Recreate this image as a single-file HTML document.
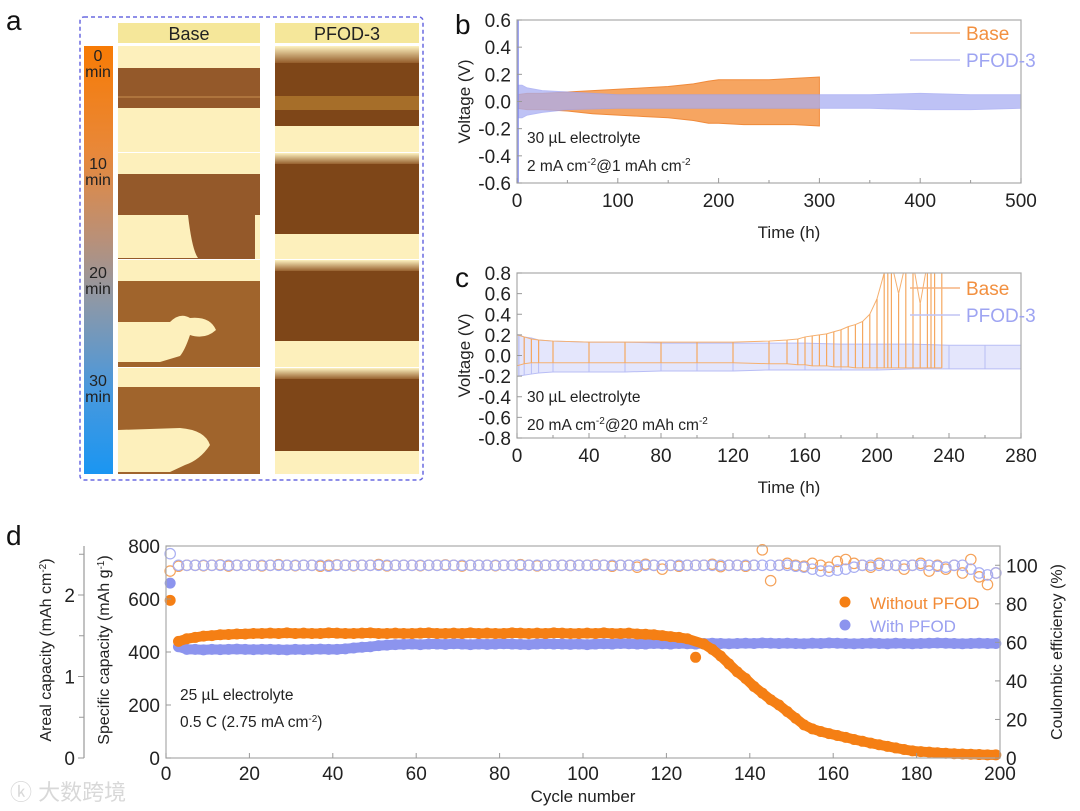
<!DOCTYPE html>
<html><head><meta charset="utf-8"><style>
html,body{margin:0;padding:0;background:#fff}
svg{display:block;font-family:"Liberation Sans","Noto Sans CJK SC",sans-serif}
</style></head><body>
<svg id="fig" width="1080" height="811" viewBox="0 0 1080 811" xmlns="http://www.w3.org/2000/svg">
<defs>
<linearGradient id="cbar" x1="0" y1="0" x2="0" y2="1">
<stop offset="0" stop-color="#f77b05"/><stop offset="0.25" stop-color="#e8883a"/><stop offset="0.45" stop-color="#b99078"/><stop offset="0.6" stop-color="#8c98a8"/><stop offset="0.8" stop-color="#4a98dc"/><stop offset="1" stop-color="#1a96f2"/>
</linearGradient>
<linearGradient id="pfTop" x1="0" y1="0" x2="0" y2="1"><stop offset="0" stop-color="#fdf2c0"/><stop offset="1" stop-color="#8e5422"/></linearGradient>
</defs>
<g>
<text x="6" y="30" font-size="28" fill="#111">a</text>
<rect x="80" y="17" width="343" height="463" fill="none" stroke="#6a6ae0" stroke-width="1.5" stroke-dasharray="4,3" rx="4"/>
<rect x="118" y="23" width="142" height="20" fill="#f5e79a"/>
<text x="189" y="40" font-size="18" text-anchor="middle" fill="#222">Base</text>
<rect x="275" y="23" width="144" height="20" fill="#f5e79a"/>
<text x="347" y="40" font-size="18" text-anchor="middle" fill="#222">PFOD-3</text>
<rect x="84" y="46" width="29" height="428" fill="url(#cbar)"/>
<g font-size="16" fill="#222" text-anchor="middle">
<text x="98" y="61">0</text><text x="98" y="77">min</text>
<text x="98" y="169">10</text><text x="98" y="185">min</text>
<text x="98" y="278">20</text><text x="98" y="294">min</text>
<text x="98" y="386">30</text><text x="98" y="402">min</text>
</g>
<g>
<rect x="118" y="46" width="142" height="106" fill="#fdf0bc"/><rect x="118" y="68" width="142" height="40" fill="#94592a"/><line x1="118" y1="97" x2="260" y2="97" stroke="#c89050" stroke-width="1"/>
<rect x="118" y="153" width="142" height="106" fill="#fdf0bc"/><rect x="118" y="174" width="142" height="85" fill="#94592a"/><path d="M118,215 L188,215 Q192,250 198,258 L118,258 Z" fill="#fdf0bc"/><rect x="255" y="215" width="5" height="44" fill="#fdf0bc"/>
<rect x="118" y="260" width="142" height="107" fill="#fdf0bc"/><rect x="118" y="281" width="142" height="86" fill="#a0642c"/><path d="M118,322 L170,322 Q180,312 190,318 Q210,316 216,330 Q205,340 190,335 Q185,350 180,356 L160,362 L118,362 Z" fill="#fdf0bc"/>
<rect x="118" y="368" width="142" height="106" fill="#fdf0bc"/><rect x="118" y="387" width="142" height="87" fill="#a0642c"/><path d="M118,430 L180,428 Q205,430 210,445 Q200,460 185,465 L170,472 L118,472 Z" fill="#fdf0bc"/>
</g>
<g>
<rect x="275" y="46" width="144" height="106" fill="#fdf0bc"/><rect x="275" y="46" width="144" height="18" fill="url(#pfTop)"/><rect x="275" y="63" width="144" height="63" fill="#7e4618"/><rect x="275" y="96" width="144" height="14" fill="#b0782e" opacity="0.8"/>
<rect x="275" y="153" width="144" height="106" fill="#fdf0bc"/><rect x="275" y="153" width="144" height="12" fill="url(#pfTop)"/><rect x="275" y="164" width="144" height="70" fill="#7e4618"/>
<rect x="275" y="260" width="144" height="107" fill="#fdf0bc"/><rect x="275" y="260" width="144" height="12" fill="url(#pfTop)"/><rect x="275" y="271" width="144" height="70" fill="#7e4618"/>
<rect x="275" y="368" width="144" height="106" fill="#fdf0bc"/><rect x="275" y="368" width="144" height="12" fill="url(#pfTop)"/><rect x="275" y="379" width="144" height="72" fill="#7e4618"/>
</g>
</g>
<g id="pb"></g>
<g id="pc"></g>
<g id="pd"></g>
<text x="10" y="800" font-size="22" fill="#d8d8d8">ⓚ 大数跨境</text>
</svg>
<script>
// Panel b data (envelope of voltage, V)
const bBaseT=[0,10,25,50,75,100,125,150,175,190,200,225,250,275,300];
const bBaseHi=[0.05,0.06,0.06,0.07,0.08,0.09,0.1,0.11,0.13,0.15,0.16,0.16,0.16,0.17,0.18];
const bBaseLo=[-0.05,-0.06,-0.06,-0.07,-0.09,-0.1,-0.11,-0.12,-0.14,-0.16,-0.16,-0.17,-0.17,-0.17,-0.18];
const bPfT=[0,5,10,25,50,100,150,200,250,300,350,400,450,500];
const bPfHi=[0.12,0.12,0.1,0.08,0.07,0.05,0.05,0.05,0.05,0.05,0.05,0.06,0.05,0.05];
const bPfLo=[-0.12,-0.12,-0.1,-0.08,-0.06,-0.05,-0.05,-0.05,-0.05,-0.05,-0.05,-0.06,-0.06,-0.05];
const bXTicks=[0,100,200,300,400,500];
const bYTicks=[0.6,0.4,0.2,0.0,-0.2,-0.4,-0.6];
// Panel c data
const cBaseT=[0,4,8,12,20,40,60,80,100,120,140,150,156,160,164,168,172,176,180,184,188,192,196,200,204,206,208,212,216,220,224,228,230,232,236];
const cBaseHi=[0.2,0.18,0.16,0.15,0.14,0.13,0.13,0.13,0.13,0.13,0.14,0.15,0.16,0.18,0.19,0.2,0.21,0.23,0.25,0.28,0.3,0.33,0.4,0.55,0.8,0.9,0.9,0.6,0.9,0.9,0.5,0.9,0.9,0.9,0.9];
const cBaseLo=[-0.1,-0.08,-0.07,-0.07,-0.07,-0.07,-0.07,-0.07,-0.07,-0.07,-0.08,-0.08,-0.09,-0.09,-0.1,-0.1,-0.1,-0.11,-0.11,-0.11,-0.12,-0.12,-0.12,-0.12,-0.12,-0.12,-0.12,-0.12,-0.12,-0.12,-0.12,-0.12,-0.12,-0.12,-0.12];
const cPfT=[0,1,4,8,12,20,40,60,80,100,120,140,160,180,200,220,240,260,280];
const cPfHi=[0.7,0.2,0.18,0.17,0.15,0.14,0.13,0.13,0.12,0.12,0.12,0.12,0.12,0.11,0.11,0.11,0.1,0.1,0.1];
const cPfLo=[-0.8,-0.2,-0.19,-0.18,-0.17,-0.16,-0.16,-0.16,-0.15,-0.15,-0.15,-0.14,-0.14,-0.14,-0.14,-0.13,-0.13,-0.13,-0.13];
const cXTicks=[0,40,80,120,160,200,240,280];
const cYTicks=[0.8,0.6,0.4,0.2,0.0,-0.2,-0.4,-0.6,-0.8];
// Panel d data (every 2 cycles, 1..199)
const dCycles=[1,3,5,7,9,11,13,15,17,19,21,23,25,27,29,31,33,35,37,39,41,43,45,47,49,51,53,55,57,59,61,63,65,67,69,71,73,75,77,79,81,83,85,87,89,91,93,95,97,99,101,103,105,107,109,111,113,115,117,119,121,123,125,127,129,131,133,135,137,139,141,143,145,147,149,151,153,155,157,159,161,163,165,167,169,171,173,175,177,179,181,183,185,187,189,191,193,195,197,199];
const dCapBase=[
595,440,450,455,460,462,465,466,468,468,
470,470,471,470,472,470,471,470,470,472,
471,470,470,471,472,470,470,471,470,470,
471,472,470,470,471,470,472,470,471,470,
470,472,471,470,471,470,472,471,470,470,
471,470,472,470,470,471,468,467,465,462,
458,455,450,380,430,410,385,355,325,300,
270,245,220,200,175,150,125,110,100,92,
85,78,70,63,56,50,44,38,32,27,
24,22,20,18,16,15,14,13,12,12];
const dCapPfod=[
660,420,410,410,408,410,409,410,411,410,
409,410,410,409,408,410,409,410,411,410,
410,412,415,418,420,424,426,428,429,430,
428,430,430,429,431,430,428,430,429,430,
431,430,429,428,430,431,430,430,429,430,
428,430,431,430,432,431,430,430,432,431,
430,432,431,430,432,433,432,431,432,433,
432,434,433,432,433,432,431,433,432,434,
433,432,431,432,433,432,431,433,432,431,
432,433,434,433,432,431,432,433,432,432];
const dCeBase=[
97,99.5,100,100,99.8,100,100.2,99.6,100,100,
100,99.7,100,100.3,100,99.8,100,100,99.5,100,
100.2,100,99.8,100,100,100.4,99.7,100,100,100,
99.8,100,100,100.2,100,99.6,100,100,100,99.8,
100,100,100.3,100,99.7,100,100,100,99.9,100,
100,100.2,100,99.5,100,100,99,100.5,100,98,
100,99.5,100,100,100,100.5,99.3,100,100,99.5,
100,108,92,100,101,100,99.5,101,100,99,
102,103,101,100,99,101,100,100,98,100,
101,97,100,98,100,96,103,94,90,96];
const dCePfod=[
106,100,100,100,100,100,100,100,100,100,
100,100,100,100,100,100,100,100,100,99.5,
100,100,100,100,100,100,100,100,100,100,
100,100,100,100,100,100,100,100,100,100,
100,100,100,100,100,100,100,100,100,100,
100,100,100,100,100,100,100,100,100,100,
100,100,100,100,100,100,100,100,100,100,
100,100,100,100,100,99.5,99,98,97,97,
97.5,98,99,100,100,100,100,100,100,100,
100,100,99.5,99,100,100,98,96,95,96];
const dXTicks=[0,20,40,60,80,100,120,140,160,180,200];
const dYTicks=[0,200,400,600,800];
const dY2Ticks=[0,20,40,60,80,100];
const dAreal=[0,1,2];

const NS="http://www.w3.org/2000/svg";
function mk(parent,tag,attrs,name,text){const e=document.createElementNS(NS,tag);for(const k in attrs)e.setAttribute(k,attrs[k]);


if(text!==undefined)e.textContent=text;parent.appendChild(e);return e;}

function voltPanel(g,cfg){
  const {x0,x1,y0,y1,xmax,ymax}=cfg;
  const X=t=>x0+(t/xmax)*(x1-x0);
  const Y=v=>(y0+y1)/2-(v/ymax)*(y1-y0)/2;
  const cp=mk(g,'clipPath',{id:cfg.id+'clip'},'clip');mk(cp,'rect',{x:x0,y:y0,width:x1-x0,height:y1-y0},'clip-rect');
  const data=mk(g,'g',{'clip-path':'url(#'+cfg.id+'clip)'},'series');
  cfg.draw(data,X,Y);
  mk(g,'rect',{x:x0,y:y0,width:x1-x0,height:y1-y0,fill:'none',stroke:'#aaa','stroke-width':1.2},'plot-frame');
  cfg.xt.forEach((t,i)=>{mk(g,'line',{x1:X(t),x2:X(t),y1:y1,y2:y1-5,stroke:'#999'},'x-tick');
    mk(g,'text',{x:X(t),y:y1+24,'font-size':19,'text-anchor':'middle',fill:'#222'},'x-tick-label',t);
    if(i<cfg.xt.length-1){const m=(t+cfg.xt[i+1])/2;mk(g,'line',{x1:X(m),x2:X(m),y1:y1,y2:y1-3,stroke:'#999'},'x-minor-tick');}});
  cfg.yt.forEach(v=>{mk(g,'line',{x1:x0,x2:x0+5,y1:Y(v),y2:Y(v),stroke:'#999'},'y-tick');
    mk(g,'text',{x:x0-6,y:Y(v)+7,'font-size':19,'text-anchor':'end',fill:'#222'},'y-tick-label',v.toFixed(1));});
  mk(g,'text',{x:(x0+x1)/2+20,y:y1+55,'font-size':17,'text-anchor':'middle',fill:'#222'},'x-axis-title','Time (h)');
  mk(g,'text',{transform:`translate(470,${(y0+y1)/2}) rotate(-90)`,'font-size':17,'text-anchor':'middle',fill:'#222'},'y-axis-title','Voltage (V)');
  mk(g,'text',{x:455,y:y0+14,'font-size':28,fill:'#111'},'panel-label',cfg.letter);
  const l1=mk(g,'g',{},'legend-base');
  mk(l1,'line',{x1:910,x2:960,y1:cfg.ly,y2:cfg.ly,stroke:'#f5b380','stroke-width':1.5},'legend-base-line');
  mk(l1,'text',{x:966,y:cfg.ly+7,'font-size':19,fill:'#f29040'},'legend-base-text','Base');
  const l2=mk(g,'g',{},'legend-pfod');
  mk(l2,'line',{x1:910,x2:960,y1:cfg.ly+27,y2:cfg.ly+27,stroke:'#c0c4f4','stroke-width':1.5},'legend-pfod-line');
  mk(l2,'text',{x:966,y:cfg.ly+34,'font-size':19,fill:'#9ea4f2'},'legend-pfod-text','PFOD-3');
  const a=mk(g,'text',{x:x0+10,y:cfg.ay,'font-size':15.5,fill:'#222'},'annotation-volume');a.textContent='30 µL electrolyte';
  const b=mk(g,'text',{x:x0+10,y:cfg.ay+28,'font-size':15.5,fill:'#222'},'annotation-current');
  b.innerHTML=cfg.cond;
}
function env(T,H,L,X,Y){let p=T.map((t,i)=>X(t)+','+Y(H[i]));for(let i=T.length-1;i>=0;i--)p.push(X(T[i])+','+Y(L[i]));return p.join(' ');}

voltPanel(document.getElementById('pb'),{id:'b',letter:'b',x0:517,x1:1021,y0:20,y1:183,xmax:500,ymax:0.6,xt:bXTicks,yt:bYTicks,ly:33,ay:143,
 cond:'2 mA cm<tspan dy="-6" font-size="10">-2</tspan><tspan dy="6">@1 mAh cm</tspan><tspan dy="-6" font-size="10">-2</tspan>',
 draw:(g,X,Y)=>{
  mk(g,'polygon',{points:env(bBaseT,bBaseHi,bBaseLo,X,Y),fill:'#f6a561','stroke':'#f08a3a','stroke-width':1},'base-envelope');
  mk(g,'polygon',{points:env(bPfT,bPfHi,bPfLo,X,Y),fill:'#a9aef2',opacity:0.75,'stroke':'#9ea4f2','stroke-width':1},'pfod-envelope');
  mk(g,'line',{x1:X(1),x2:X(1),y1:Y(0.6),y2:Y(-0.6),stroke:'#8088ee','stroke-width':1.5},'pfod-initial-spike');
 }});
voltPanel(document.getElementById('pc'),{id:'c',letter:'c',x0:517,x1:1021,y0:273,y1:438,xmax:280,ymax:0.8,xt:cXTicks,yt:cYTicks,ly:288,ay:402,
 cond:'20 mA cm<tspan dy="-6" font-size="10">-2</tspan><tspan dy="6">@20 mAh cm</tspan><tspan dy="-6" font-size="10">-2</tspan>',
 draw:(g,X,Y)=>{
  mk(g,'polygon',{points:env(cPfT.slice(1),cPfHi.slice(1),cPfLo.slice(1),X,Y),fill:'#e4e6fc',stroke:'#b8bdf5','stroke-width':1},'pfod-envelope');
  cPfT.forEach((t,i)=>mk(g,'line',{x1:X(t),x2:X(t),y1:Y(cPfHi[i]),y2:Y(cPfLo[i]),stroke:'#b8bdf5','stroke-width':1},'pfod-cycle'));
  mk(g,'polyline',{points:cBaseT.map((t,i)=>X(t)+','+Y(cBaseHi[i])).join(' '),fill:'none',stroke:'#f5b070','stroke-width':1},'base-upper');
  mk(g,'polyline',{points:cBaseT.map((t,i)=>X(t)+','+Y(cBaseLo[i])).join(' '),fill:'none',stroke:'#f5b070','stroke-width':1},'base-lower');
  cBaseT.forEach((t,i)=>mk(g,'line',{x1:X(t),x2:X(t),y1:Y(cBaseHi[i]),y2:Y(cBaseLo[i]),stroke:'#f5a860','stroke-width':1.2},'base-cycle'));
 }});

(function(){
  const g=document.getElementById('pd');
  const x0=166,x1=1000,y0=546,y1=758;
  const X=c=>x0+c/200*(x1-x0);
  const Y=v=>y1-v/800*(y1-y0);
  const Y2=v=>y1-v/110*(y1-y0);
  const YA=v=>y1-v*81.5;
  mk(g,'text',{x:6,y:545,'font-size':28,fill:'#111'},'panel-label','d');
  dCycles.forEach((c,i)=>mk(g,'circle',{cx:X(c),cy:Y2(dCeBase[i]),r:5.2,fill:'none',stroke:'#f5a25a','stroke-width':1.2},'ce-base-point'));
  dCycles.forEach((c,i)=>mk(g,'circle',{cx:X(c),cy:Y2(dCePfod[i]),r:5.2,fill:'none',stroke:'#a8aef2','stroke-width':1.2},'ce-pfod-point'));
  mk(g,'polyline',{points:dCycles.slice(1).map((c,i)=>X(c)+','+Y(dCapPfod[i+1])).join(' '),fill:'none',stroke:'#8c94ee','stroke-width':10,'stroke-linejoin':'round','stroke-linecap':'round'},'cap-pfod-band');
  dCycles.forEach((c,i)=>mk(g,'circle',{cx:X(c),cy:Y(dCapPfod[i]),r:5.5,fill:'#8c94ee'},'cap-pfod-point'));
  const bIdx=dCycles.map((c,i)=>i).filter(i=>i>0&&dCycles[i]!==127);
  mk(g,'polyline',{points:bIdx.map(i=>X(dCycles[i])+','+Y(dCapBase[i])).join(' '),fill:'none',stroke:'#f57f14','stroke-width':10,'stroke-linejoin':'round','stroke-linecap':'round'},'cap-base-band');
  dCycles.forEach((c,i)=>mk(g,'circle',{cx:X(c),cy:Y(dCapBase[i]),r:5.5,fill:'#f57f14'},'cap-base-point'));
  mk(g,'rect',{x:x0,y:y0,width:x1-x0,height:y1-y0,fill:'none',stroke:'#aaa','stroke-width':1.2},'plot-frame');
  dXTicks.forEach((t,i)=>{mk(g,'line',{x1:X(t),x2:X(t),y1:y1,y2:y1-5,stroke:'#999'},'x-tick');
    mk(g,'text',{x:X(t),y:y1+22,'font-size':19,'text-anchor':'middle',fill:'#222'},'x-tick-label',t);});
  dYTicks.forEach(v=>{mk(g,'line',{x1:x0,x2:x0+5,y1:Y(v),y2:Y(v),stroke:'#999'},'y-tick');
    mk(g,'text',{x:x0-6,y:Y(v)+7,'font-size':19,'text-anchor':'end',fill:'#222'},'y-tick-label',v);});
  dY2Ticks.forEach(v=>{mk(g,'line',{x1:x1,x2:x1-5,y1:Y2(v),y2:Y2(v),stroke:'#999'},'y2-tick');
    mk(g,'text',{x:x1+6,y:Y2(v)+7,'font-size':19,fill:'#222'},'y2-tick-label',v);});
  mk(g,'line',{x1:84,x2:84,y1:y0,y2:y1,stroke:'#999','stroke-width':1.2},'areal-axis-line');
  [0.5,1.5,2.5].forEach(v=>mk(g,'line',{x1:84,x2:79,y1:YA(v),y2:YA(v),stroke:'#999'},'areal-minor-tick'));
  dAreal.forEach(v=>{mk(g,'line',{x1:84,x2:78,y1:YA(v),y2:YA(v),stroke:'#999'},'areal-tick');
    mk(g,'text',{x:75,y:YA(v)+7,'font-size':19,'text-anchor':'end',fill:'#222'},'areal-tick-label',v);});
  const t1=mk(g,'text',{transform:'translate(51,650) rotate(-90)','font-size':16,'text-anchor':'middle',fill:'#222'},'areal-axis-title');
  t1.innerHTML='Areal capacity (mAh cm<tspan dy="-5" font-size="10">-2</tspan><tspan dy="5">)</tspan>';
  const t2=mk(g,'text',{transform:'translate(109,650) rotate(-90)','font-size':16,'text-anchor':'middle',fill:'#222'},'y-axis-title');
  t2.innerHTML='Specific capacity (mAh g<tspan dy="-5" font-size="10">-1</tspan><tspan dy="5">)</tspan>';
  mk(g,'text',{transform:'translate(1062,652) rotate(-90)','font-size':16,'text-anchor':'middle',fill:'#222'},'y2-axis-title','Coulombic efficiency (%)');
  mk(g,'text',{x:(x0+x1)/2,y:802,'font-size':17,'text-anchor':'middle',fill:'#222'},'x-axis-title','Cycle number');
  mk(g,'text',{x:180,y:700,'font-size':15.5,fill:'#222'},'annotation-volume','25 µL electrolyte');
  const a2=mk(g,'text',{x:180,y:727,'font-size':15.5,fill:'#222'},'annotation-rate');
  a2.innerHTML='0.5 C (2.75 mA cm<tspan dy="-5" font-size="10">-2</tspan><tspan dy="5">)</tspan>';
  mk(g,'circle',{cx:845,cy:602,r:5.5,fill:'#f57f14'},'legend-base-marker');
  mk(g,'text',{x:870,y:609,'font-size':17,fill:'#f28a35'},'legend-base-text','Without PFOD');
  mk(g,'circle',{cx:845,cy:625,r:5.5,fill:'#8c94ee'},'legend-pfod-marker');
  mk(g,'text',{x:870,y:632,'font-size':17,fill:'#9aa0f0'},'legend-pfod-text','With PFOD');
})();
</script>
</body></html>
